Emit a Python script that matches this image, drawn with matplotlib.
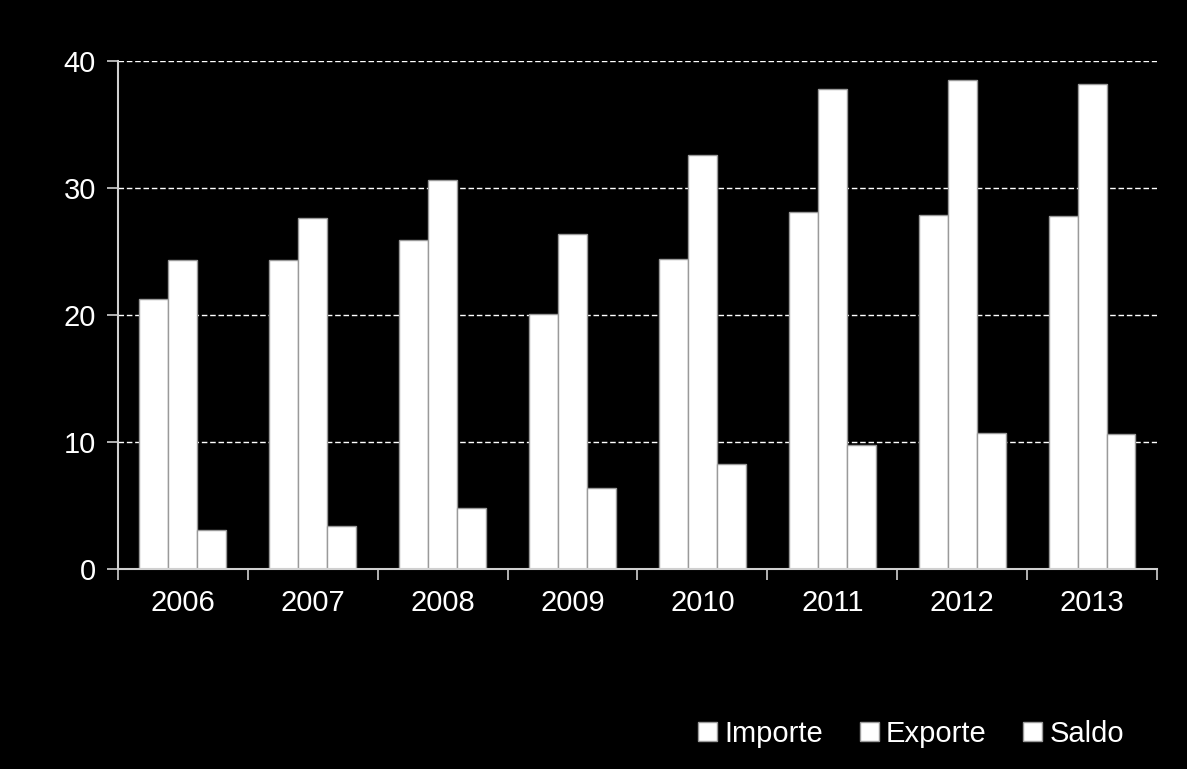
import numpy as np
import matplotlib
matplotlib.use("Agg")
import matplotlib.pyplot as plt
from matplotlib.patches import Patch

plt.rcParams['font.family'] = ['Liberation Sans', 'DejaVu Sans']

# --- Datos ---
anios = ['2006', '2007', '2008', '2009', '2010', '2011', '2012', '2013']
importe = [21.3, 24.3, 25.9, 20.1, 24.4, 28.1, 27.9, 27.8]
exporte = [24.3, 27.6, 30.6, 26.4, 32.6, 37.8, 38.5, 38.2]
saldo = [3.1, 3.4, 4.8, 6.4, 8.3, 9.8, 10.7, 10.6]

fig = plt.figure(figsize=(11.87, 7.69), dpi=100, facecolor='black')
ax = fig.add_axes([0.0994, 0.26, 0.8753, 0.6607], facecolor='black')

x = np.arange(len(anios))
ancho = 0.223
borde = '#9a9a9a'
for k, serie in enumerate([importe, exporte, saldo]):
    ax.bar(x + (k - 1) * ancho, serie, width=ancho, color='white',
           edgecolor=borde, linewidth=1.0, zorder=3)

ax.set_xlim(-0.5, len(anios) - 0.5)
ax.set_ylim(0, 40)
ax.set_yticks([0, 10, 20, 30, 40])
ax.set_xticks(x)
ax.set_xticklabels(anios)
ax.set_xticks(np.arange(-0.5, len(anios)), minor=True)

ax.yaxis.grid(True, color='white', linestyle=(0, (4, 2)), linewidth=1.0, zorder=0)
ax.tick_params(axis='x', which='major', length=0, pad=14, labelsize=21, colors='white')
ax.tick_params(axis='x', which='minor', length=8, width=1.2, color='#d0d0d0', direction='out')
ax.tick_params(axis='y', length=8, width=1.2, color='#d0d0d0', pad=8, labelsize=21, labelcolor='white')

for lado in ['top', 'right']:
    ax.spines[lado].set_visible(False)
for lado in ['left', 'bottom']:
    ax.spines[lado].set_color('#d0d0d0')
    ax.spines[lado].set_linewidth(1.5)
    ax.spines[lado].set_zorder(4)

handles = [Patch(facecolor='white', edgecolor=borde, label=n)
           for n in ['Importe', 'Exporte', 'Saldo']]
leg = fig.legend(handles=handles, loc='center right', bbox_to_anchor=(0.969, 0.046),
                 ncol=3, frameon=False, fontsize=21, handlelength=0.65, handleheight=0.65,
                 handletextpad=0.25, columnspacing=1.25)
for t in leg.get_texts():
    t.set_color('white')

fig.savefig('out.png', dpi=100, facecolor='black')
